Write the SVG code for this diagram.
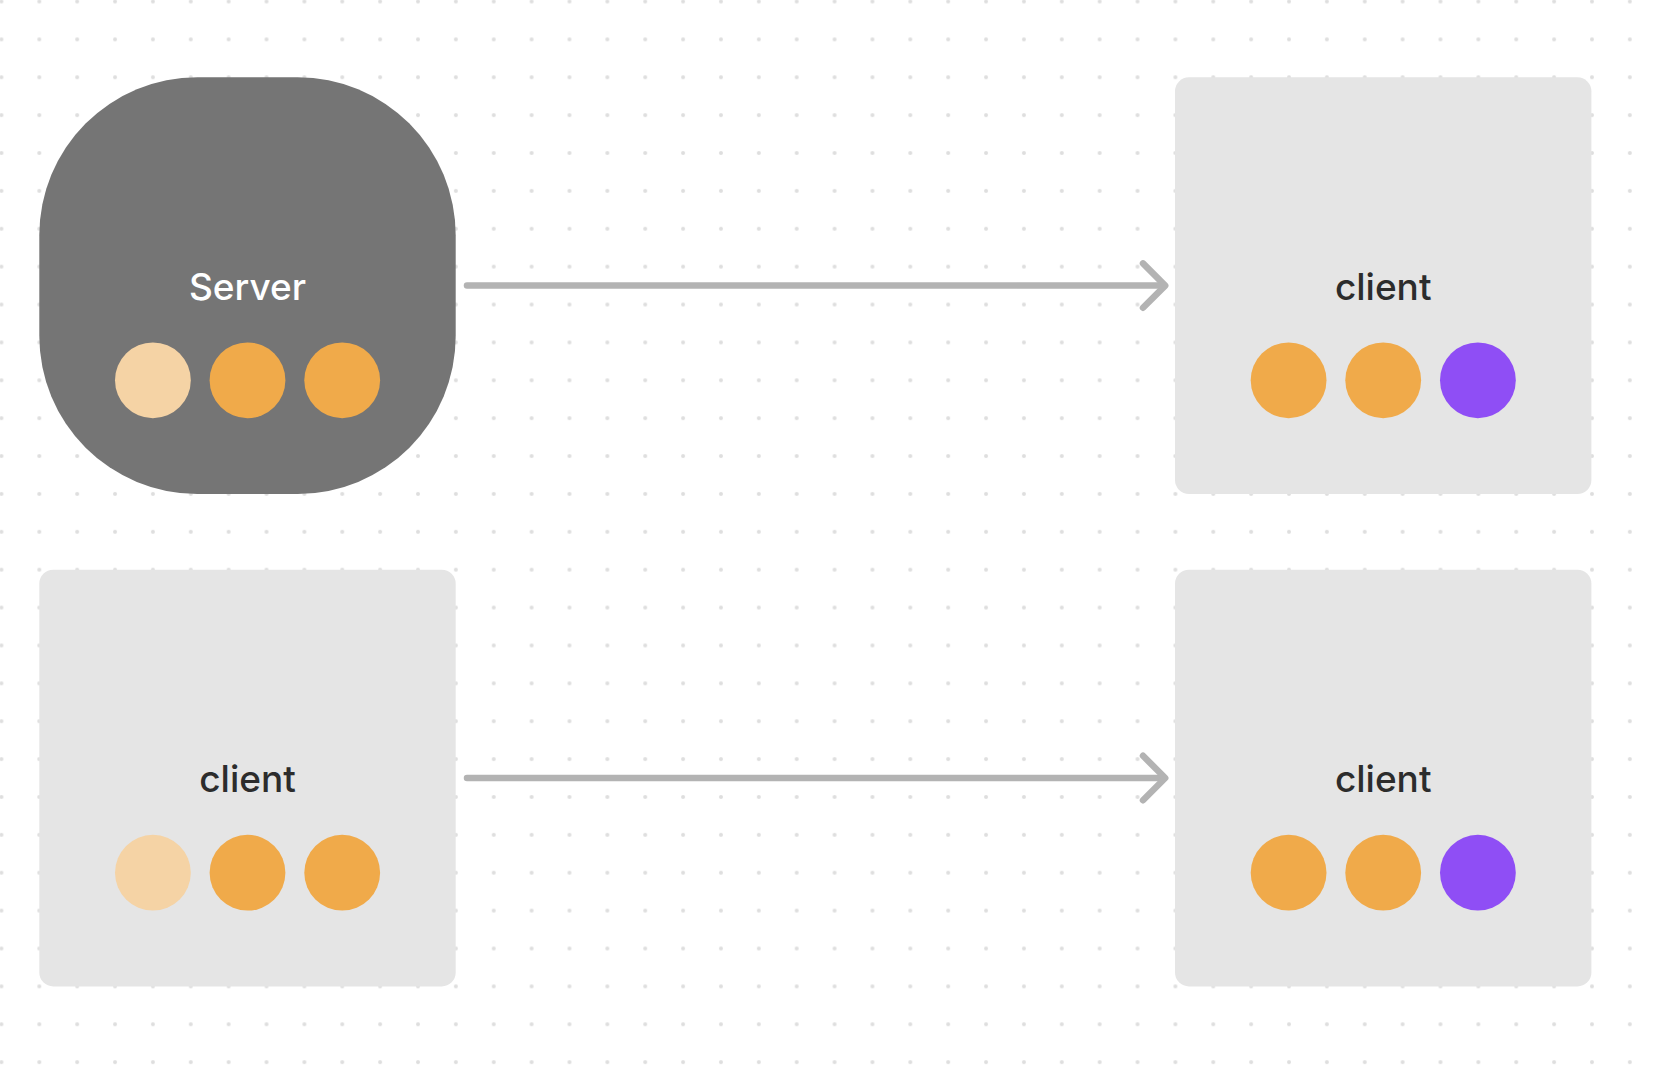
<svg xmlns="http://www.w3.org/2000/svg" width="1654" height="1082" viewBox="0 0 1654 1082">
  <defs>
    <pattern id="dotGrid" patternUnits="userSpaceOnUse" x="-17.5" y="-17.44" width="37.87" height="37.88">
      <circle cx="18.935" cy="18.94" r="2" fill="#dedede"/>
    </pattern>
    <style>
      .client-box { fill: #e5e5e5; }
      .server-box { fill: #757575; }
      .label { font-family: Inter, "Noto Sans", "Liberation Sans", sans-serif; font-size: 37px; font-weight: 500; text-anchor: middle; }
      .label-dark { fill: #2c2c2c; }
      .label-light { fill: #ffffff; }
      .pale { fill: #f5d3a5; }
      .orange { fill: #f0aa4a; }
      .purple { fill: #8f4ef5; }
      .conn { fill: none; stroke: #b3b3b3; stroke-width: 6.5; stroke-linecap: round; stroke-linejoin: round; }
    </style>
  </defs>

  <!-- canvas background with dot grid -->
  <rect width="1654" height="1082" fill="#ffffff"/>
  <rect width="1654" height="1082" fill="url(#dotGrid)"/>

  <!-- connectors -->
  <g id="connectors">
    <g id="edge-server-client1">
      <path class="conn" d="M467 285.6 H1164"/>
      <path class="conn" d="M1143 263.4 L1165.2 285.6 L1143 307.8"/>
    </g>
    <g id="edge-client2-client3">
      <path class="conn" d="M467 778 H1164"/>
      <path class="conn" d="M1143 755.8 L1165.2 778 L1143 800.2"/>
    </g>
  </g>

  <!-- server node -->
  <g id="server">
    <rect class="server-box" x="39.3" y="77.3" width="416.4" height="416.7" rx="158" ry="158"/>
    <text class="label label-light" x="247.5" y="300">Server</text>
    <circle class="pale" cx="152.9" cy="380.3" r="37.9"/>
    <circle class="orange" cx="247.5" cy="380.3" r="37.9"/>
    <circle class="orange" cx="342.2" cy="380.3" r="37.9"/>
  </g>

  <!-- client, top right -->
  <g id="client-top-right">
    <rect class="client-box" x="1175" y="77.3" width="416.4" height="416.7" rx="14" ry="14"/>
    <text class="label label-dark" x="1383.2" y="299.5">client</text>
    <circle class="orange" cx="1288.6" cy="380.3" r="37.9"/>
    <circle class="orange" cx="1383.2" cy="380.3" r="37.9"/>
    <circle class="purple" cx="1477.9" cy="380.3" r="37.9"/>
  </g>

  <!-- client, bottom left -->
  <g id="client-bottom-left">
    <rect class="client-box" x="39.3" y="569.7" width="416.4" height="416.7" rx="14" ry="14"/>
    <text class="label label-dark" x="247.5" y="792">client</text>
    <circle class="pale" cx="152.9" cy="872.7" r="37.9"/>
    <circle class="orange" cx="247.5" cy="872.7" r="37.9"/>
    <circle class="orange" cx="342.2" cy="872.7" r="37.9"/>
  </g>

  <!-- client, bottom right -->
  <g id="client-bottom-right">
    <rect class="client-box" x="1175" y="569.7" width="416.4" height="416.7" rx="14" ry="14"/>
    <text class="label label-dark" x="1383.2" y="792">client</text>
    <circle class="orange" cx="1288.6" cy="872.7" r="37.9"/>
    <circle class="orange" cx="1383.2" cy="872.7" r="37.9"/>
    <circle class="purple" cx="1477.9" cy="872.7" r="37.9"/>
  </g>
</svg>
